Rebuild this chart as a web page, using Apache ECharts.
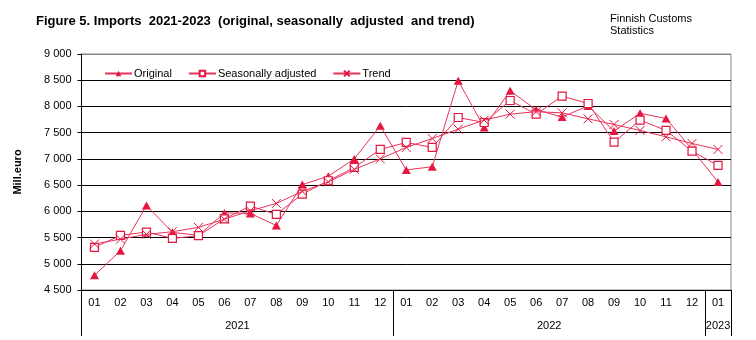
<!DOCTYPE html>
<html><head><meta charset="utf-8">
<script src="https://cdn.jsdelivr.net/npm/echarts@6/dist/echarts.min.js"></script>
<style>html,body{margin:0;padding:0;background:#fff}#c{width:756px;height:340px}</style>
</head><body><div id="c"></div>
<script>
const months = ['01','02','03','04','05','06','07','08','09','10','11','12','01','02','03','04','05','06','07','08','09','10','11','12','01'];
const yearLabels = ['2021','2022','2023'];
const yearCenters = [6, 18, 24.5];
const yearBounds = [0, 12, 24, 25];
const original = [4780, 5250, 6110, 5600, 5540, 5970, 5960, 5730, 6510, 6670, 7000, 7630, 6790, 6850, 8490, 7600, 8300, 7935, 7800, 8010, 7530, 7870, 7770, 7180, 6560];
const seasAdj = [5313, 5541, 5605, 5484, 5535, 5858, 6100, 5942, 6329, 6583, 6837, 7180, 7313, 7218, 7789, 7694, 8113, 7853, 8196, 8056, 7319, 7739, 7542, 7148, 6875];
const trend = [5376, 5470, 5561, 5611, 5694, 5850, 6011, 6151, 6380, 6560, 6800, 7000, 7218, 7389, 7567, 7739, 7853, 7900, 7878, 7764, 7656, 7542, 7421, 7294, 7180];

const RED = '#e3173f';
const LINE = '#e8325a';
const FONT = 'Liberation Sans';
const chart = echarts.init(document.getElementById('c'), null, {renderer:'canvas'});
const fmt = v => String(v).replace(/\B(?=(\d{3})+(?!\d))/g, ' ');
chart.setOption({
  animation:false,
  textStyle:{fontFamily:FONT},
  title:[
    {text:'Figure 5. Imports  2021-2023  (original, seasonally  adjusted  and trend)', left:31, top:10,
     textStyle:{fontFamily:FONT, fontSize:13, fontWeight:'bold', color:'#000'}},
    {text:'Finnish Customs\nStatistics', left:605, top:8,
     textStyle:{fontFamily:FONT, fontSize:11, fontWeight:'normal', color:'#000', lineHeight:12}}
  ],
  legend:{left:99, top:63, itemWidth:27, itemHeight:7, itemGap:16,
    textStyle:{fontFamily:FONT, fontSize:11, color:'#000', padding:[0,0,0,-3]},
    data:['Original','Seasonally adjusted','Trend']},
  grid:{left:81.5, right:25, top:54, bottom:50, show:true, borderColor:'#888', borderWidth:1, backgroundColor:'transparent'},
  xAxis:[
    {type:'category', data:months, boundaryGap:true, position:'bottom',
     axisLine:{lineStyle:{color:'#000', width:1}},
     axisTick:{interval:0, length:21, lineStyle:{color:'#000'}},
     axisLabel:{interval:0, margin:7, fontSize:11, color:'#000', fontFamily:FONT}},
    {type:'value', min:0, max:25, position:'bottom', offset:0,
     axisLine:{show:false}, splitLine:{show:false},
     axisTick:{show:true, customValues:yearBounds, length:46, lineStyle:{color:'#000'}},
     axisLabel:{customValues:yearCenters, margin:30, fontSize:11, color:'#000', fontFamily:FONT,
       formatter:v => yearLabels[yearCenters.indexOf(v)] || ''}}
  ],
  yAxis:{type:'value', min:4500, max:9000, interval:500,
    name:'Mill.euro', nameLocation:'middle', nameRotate:90, nameGap:58,
    nameTextStyle:{fontFamily:FONT, fontSize:11, fontWeight:'bold', color:'#000'},
    axisLine:{show:true, lineStyle:{color:'#000'}},
    axisTick:{show:true, length:4, lineStyle:{color:'#000'}},
    axisLabel:{fontSize:11, color:'#000', margin:10, formatter:fmt, fontFamily:FONT},
    splitLine:{lineStyle:{color:['#000','#000','#000','#000','#000','#000','#000','#000','#000','#888'], width:1}}},
  series:[
    {name:'Original', type:'line', data:original, symbol:'triangle', symbolSize:[9,8],
     lineStyle:{color:LINE, width:1}, itemStyle:{color:RED}, z:2},
    {name:'Seasonally adjusted', type:'line', data:seasAdj, symbol:'rect', symbolSize:8,
     lineStyle:{color:LINE, width:1}, itemStyle:{color:'#fff', borderColor:RED, borderWidth:1.2}, z:3},
    {name:'Trend', type:'line', data:trend, symbol:'path://M0,0L10,10M10,0L0,10', symbolSize:9,
     lineStyle:{color:LINE, width:1}, itemStyle:{color:'none', borderColor:RED, borderWidth:1}, z:4}
  ]
});
</script></body></html>
